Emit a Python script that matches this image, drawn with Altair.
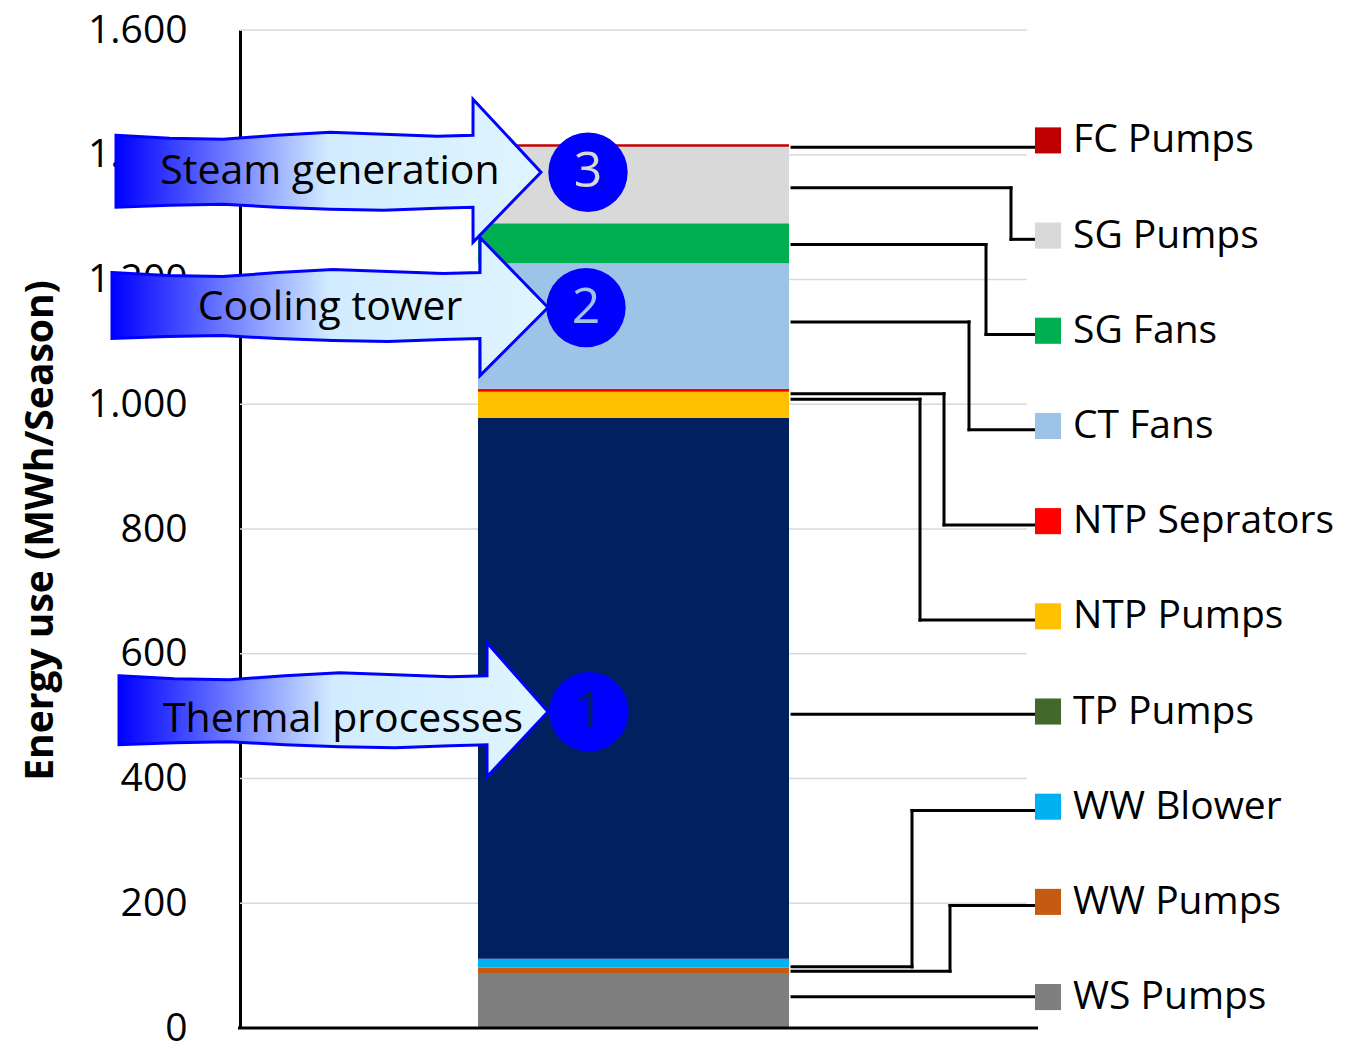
import altair as alt
import pandas as pd

# Seasonal energy use per component, listed bottom-to-top as stacked in the bar
components = ["WS Pumps", "WW Pumps", "WW Blower", "TP Pumps", "NTP Pumps",
              "NTP Seprators", "CT Fans", "SG Fans", "SG Pumps", "FC Pumps"]
energy_mwh = [88, 9, 14, 867, 42, 5, 201, 64, 123, 4]
bar_colors = ["#7F7F7F", "#C55A11", "#00B0F0", "#002060", "#FFC000",
              "#FF0000", "#9DC3E6", "#00B050", "#D9D9D9", "#C00000"]

# Legend, listed top-to-bottom
legend_names = ["FC Pumps", "SG Pumps", "SG Fans", "CT Fans", "NTP Seprators",
                "NTP Pumps", "TP Pumps", "WW Blower", "WW Pumps", "WS Pumps"]
legend_colors = ["#C00000", "#D9D9D9", "#00B050", "#9DC3E6", "#FF0000",
                 "#FFC000", "#43682B", "#00B0F0", "#C55A11", "#7F7F7F"]
# value where each leader line leaves the bar, and x of its vertical elbow
leader_from = [1412, 1347, 1256, 1132, 1017, 1008, 503, 98, 91, 50]
leader_elbow = [None, 771, 746, 729, 704, 680, None, 672, 710, None]

y_ticks = [0, 200, 400, 600, 800, 1000, 1200, 1400, 1600]

# Process-group call-outs
arrow_labels = ["Steam generation", "Cooling tower", "Thermal processes"]
arrow_numbers = ["3", "2", "1"]
arrow_tip_value = [1372, 1155, 507]
number_colors = ["#D9D9D9", "#9DC3E6", "#002060"]

# ---- layout (x in pixels from the value axis, y in MWh) ----
W, H = 1106, 998
PX = 1600 / H                  # MWh per pixel
BAR_X0, BAR_X1 = 238, 549
LEADER_X0, LEADER_X1 = 552, 795
SWATCH_X, LABEL_X = 808, 833
GRID_X1, BASE_X1 = 787, 798
LEGEND_TOP, LEGEND_STEP = 1423, 152.6

xs = alt.Scale(domain=[0, W], nice=False, zero=False)
ys = alt.Scale(domain=[0, 1600], nice=False, zero=True)
FONT = "Open Sans"


def xq(field):
    return alt.X(field, type="quantitative", scale=xs, axis=None)


def yq(field, **kw):
    return alt.Y(field, type="quantitative", scale=ys, **kw)


value_axis = alt.Axis(
    values=y_ticks,
    labelExpr="replace(format(datum.value, ',d'), ',', '.')",
    ticks=False, grid=False, domain=True, domainColor="black", domainWidth=3,
    labelFont=FONT, labelFontSize=39, labelColor="black", labelPadding=53,
    title="Energy use (MWh/Season)", titleFont=FONT, titleFontSize=39,
    titleFontWeight="bold", titleColor="black", titleAngle=-90,
    titleX=-200, titleY=500, titleAlign="center", titleBaseline="middle",
)

# horizontal gridlines (drawn first, behind the bar)
grid_df = pd.DataFrame({"v": [t for t in y_ticks if t > 0], "x0": 0, "x1": GRID_X1})
grid = alt.Chart(grid_df).mark_rule(color="#D9D9D9", strokeWidth=1.5).encode(
    x=xq("x0"), x2="x1:Q", y=yq("v", axis=value_axis),
)

# stacked segments
rows, lo = [], 0
for name, v, c in zip(components, energy_mwh, bar_colors):
    rows.append({"name": name, "lo": lo, "hi": lo + v, "color": c,
                 "x0": BAR_X0, "x1": BAR_X1})
    lo += v
bars_df = pd.DataFrame(rows)

bars = alt.Chart(bars_df).mark_bar(strokeWidth=0).encode(
    x=xq("x0"), x2="x1:Q",
    y=yq("lo"), y2="hi:Q",
    color=alt.Color("color:N", scale=None),
)

base_df = pd.DataFrame({"v": [0], "x0": [-2], "x1": [BASE_X1]})
baseline = alt.Chart(base_df).mark_rule(color="black", strokeWidth=3).encode(
    x=xq("x0"), x2="x1:Q", y=yq("v"),
)

# leader lines from the bar to the legend rows
segs = []
for i, (a, e) in enumerate(zip(leader_from, leader_elbow)):
    row = LEGEND_TOP - i * LEGEND_STEP
    if e is None:
        segs.append((LEADER_X0, a, LEADER_X1, a))
    else:
        end = row - 6
        segs += [(LEADER_X0, a, e, a), (e, a, e, end), (e, end, LEADER_X1, end)]
seg_df = pd.DataFrame(segs, columns=["xa", "ya", "xb", "yb"])
leaders = alt.Chart(seg_df).mark_rule(color="black", strokeWidth=3, strokeCap="square").encode(
    x=xq("xa"), x2="xb:Q", y=yq("ya"), y2="yb:Q",
)

legend_df = pd.DataFrame({
    "name": legend_names, "color": legend_colors,
    "v": [LEGEND_TOP - i * LEGEND_STEP for i in range(len(legend_names))],
    "xs": SWATCH_X, "xl": LABEL_X,
})
swatches = alt.Chart(legend_df).mark_square(size=680, opacity=1, strokeWidth=0).encode(
    x=xq("xs"), y=yq("v"),
    color=alt.Color("color:N", scale=None),
)
legend_text = alt.Chart(legend_df).mark_text(
    font=FONT, fontSize=39, align="left", baseline="middle", color="black"
).encode(
    x=xq("xl"), y=yq("v"), text="name:N",
)

# wavy block arrows pointing into the bar
arrow_left = [-124, -128, -121]
arrow_base = [233, 240, 247]
arrow_tip_x = [301, 308, 308]
body_up = [37, 35, 36]          # pixels above the tip
body_down = [35, 31, 33]
head_up = [73, 70, 69]
head_down = [70, 68, 65]
wave_at = [0, 0.15, 0.3, 0.45, 0.6, 0.75, 0.9, 1.0]
wave_top = [0, 3, 4, 0, -3, -1, 1, 0]       # pixels, positive = downward
wave_bot = [0, -2, -3, 0, 2, 3, 1, 0]

pts = []
for k in range(3):
    t = arrow_tip_value[k]
    for f, wt, wb in zip(wave_at, wave_top, wave_bot):
        x = arrow_left[k] + f * (arrow_base[k] - arrow_left[k])
        pts.append({"arrow": k, "x": x,
                    "top": t + (body_up[k] - wt) * PX,
                    "bot": t - (body_down[k] + wb) * PX})
    pts.append({"arrow": k, "x": arrow_base[k] + 0.05,
                "top": t + head_up[k] * PX, "bot": t - head_down[k] * PX})
    pts.append({"arrow": k, "x": arrow_tip_x[k], "top": t, "bot": t})
arrow_df = pd.DataFrame(pts)

arrow_fill = alt.Gradient(
    gradient="linear", x1=0, x2=1, y1=0, y2=0,
    stops=[alt.GradientStop(offset=0, color="#0000FF"),
           alt.GradientStop(offset=0.5, color="#D2ECFF"),
           alt.GradientStop(offset=1, color="#DFF5FE")],
)
arrows = alt.Chart(arrow_df).mark_area(
    fill=arrow_fill, stroke="#0000FF", strokeWidth=3, strokeJoin="miter", opacity=1
).encode(
    x=xq("x"), y=yq("top", stack=None), y2="bot:Q",
    detail="arrow:N",
)

label_df = pd.DataFrame({
    "label": arrow_labels,
    "x": [90, 90, 103],
    "v": [arrow_tip_value[0], arrow_tip_value[1], arrow_tip_value[2] - 8 * PX],
})
arrow_text = alt.Chart(label_df).mark_text(
    font=FONT, fontSize=41, align="center", baseline="middle", color="black"
).encode(
    x=xq("x"), y=yq("v"), text="label:N",
)

circle_df = pd.DataFrame({
    "num": arrow_numbers, "x": [348, 346, 349],
    "v": arrow_tip_value, "tc": number_colors,
})
circles = alt.Chart(circle_df).mark_circle(size=6300, color="#0000FF", opacity=1).encode(
    x=xq("x"), y=yq("v"),
)
numbers = alt.Chart(circle_df).mark_text(
    font=FONT, fontSize=50, align="center", baseline="middle"
).encode(
    x=xq("x"), y=yq("v"), text="num:N",
    color=alt.Color("tc:N", scale=None),
)

chart = alt.layer(
    grid, bars, leaders, baseline, arrows, arrow_text, circles, numbers,
    swatches, legend_text,
).properties(
    width=W, height=H, autosize="none",
    padding={"left": 240, "top": 30, "right": 0, "bottom": 15},
    background="white",
).configure_view(stroke=None)

chart.save("out.html", embed_options={"renderer": "svg", "actions": False})
